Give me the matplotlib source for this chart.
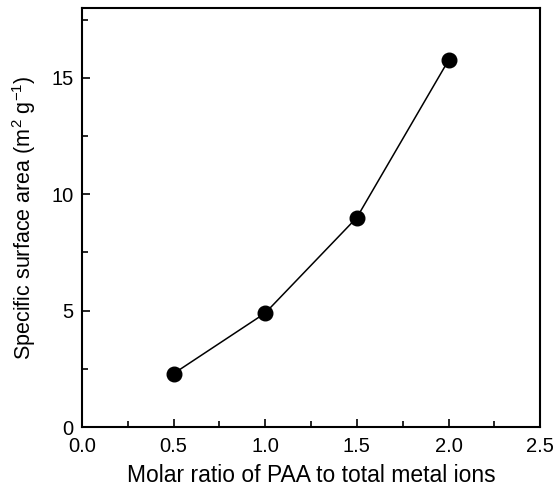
import matplotlib
matplotlib.use("Agg")
import matplotlib.pyplot as plt
from matplotlib.ticker import MultipleLocator

plt.rcParams['font.family'] = ['Liberation Sans', 'DejaVu Sans']
plt.rcParams['mathtext.fontset'] = 'custom'
plt.rcParams['mathtext.rm'] = 'Liberation Sans'

# data
molar_ratio = [0.5, 1.0, 1.5, 2.0]
surface_area = [2.3, 4.9, 9.0, 15.75]

fig = plt.figure(figsize=(5.54, 4.91), dpi=100)
ax = fig.add_axes([0.148, 0.130, 0.827, 0.854])

ax.plot(molar_ratio, surface_area, '-', color='black', lw=1.1)
ax.plot(molar_ratio, surface_area, 'o', color='black', ms=10.5)

ax.set_xlim(0, 2.5)
ax.set_ylim(0, 18)
ax.xaxis.set_major_locator(MultipleLocator(0.5))
ax.xaxis.set_minor_locator(MultipleLocator(0.25))
ax.yaxis.set_major_locator(MultipleLocator(5))
ax.yaxis.set_minor_locator(MultipleLocator(2.5))
ax.xaxis.set_major_formatter(lambda v, p: f"{v:.1f}")

ax.tick_params(which='both', direction='in', top=False, right=False,
               labelsize=14.5, width=1.2)
ax.tick_params(which='major', length=6)
ax.tick_params(which='minor', length=4)
ax.tick_params(axis='x', which='major', pad=7)
ax.tick_params(axis='y', which='major', pad=6)
for s in ax.spines.values():
    s.set_linewidth(1.5)

ax.set_xlabel('Molar ratio of PAA to total metal ions', fontsize=16.5, labelpad=6)
ax.set_ylabel('Specific surface area (m$^2$ g$^{-1}$)', fontsize=15.5, labelpad=10)

fig.savefig('out.png', dpi=100)
